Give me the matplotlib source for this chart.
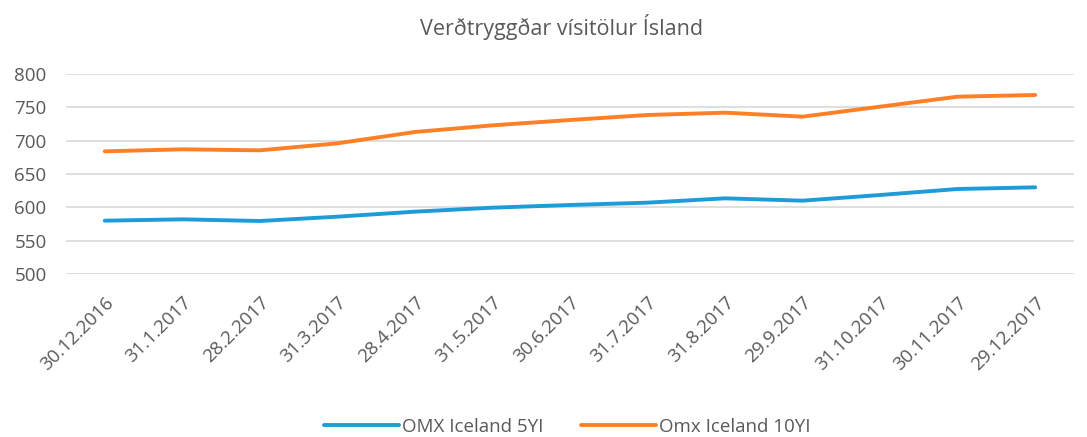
import matplotlib
matplotlib.use("Agg")
import matplotlib.pyplot as plt

dates = ["30.12.2016", "31.1.2017", "28.2.2017", "31.3.2017", "28.4.2017", "31.5.2017",
         "30.6.2017", "31.7.2017", "31.8.2017", "29.9.2017", "31.10.2017", "30.11.2017", "29.12.2017"]
omx_5yi = [580, 582, 579.5, 586, 593.5, 599.5, 603.5, 607, 613.5, 610, 618.5, 627.5, 630]
omx_10yi = [684, 687, 685.5, 696, 713, 723, 731, 738.5, 742, 736, 751, 766, 768.5]
yticks = [500, 550, 600, 650, 700, 750, 800]

plt.rcParams['font.family'] = ['Open Sans', 'DejaVu Sans']
fig = plt.figure(figsize=(10.87, 4.37), dpi=100)
ax = fig.add_axes([66/1087, 1-274/437, (1074-66)/1087, 200/437])

x = list(range(len(dates)))
ax.plot(x, omx_5yi, color="#1e9cd7", lw=2.8, solid_capstyle="round", label="OMX Iceland 5YI")
ax.plot(x, omx_10yi, color="#ff7f27", lw=2.8, solid_capstyle="round", label="Omx Iceland 10YI")

ax.set_xlim(-0.5, len(dates) - 0.5)
ax.set_ylim(500, 800)
ax.set_yticks(yticks)
ax.set_yticklabels([str(v) for v in yticks], fontsize=13.5, color="#595959")
ax.grid(axis="y", color="#d9d9d9", lw=1.2)
ax.set_axisbelow(True)
for s in ax.spines.values():
    s.set_visible(False)
ax.tick_params(axis="both", length=0)
ax.tick_params(axis="y", pad=14)
ax.set_xticks(x)
ax.set_xticklabels(dates, rotation=45, ha="right", rotation_mode="anchor",
                   fontsize=13.5, color="#595959")
ax.tick_params(axis="x", pad=14)

fig.text(0.517, 1-27/437, "Verðtryggðar vísitölur Ísland", ha="center", va="center",
         fontsize=15.5, color="#595959")
fig.legend(loc="center", bbox_to_anchor=(0.522, 1-427/437), ncol=2, frameon=False,
           fontsize=13.5, labelcolor="#595959", handlelength=4.0, handletextpad=0.15,
           columnspacing=2.0)

fig.savefig("out.png", dpi=100)
